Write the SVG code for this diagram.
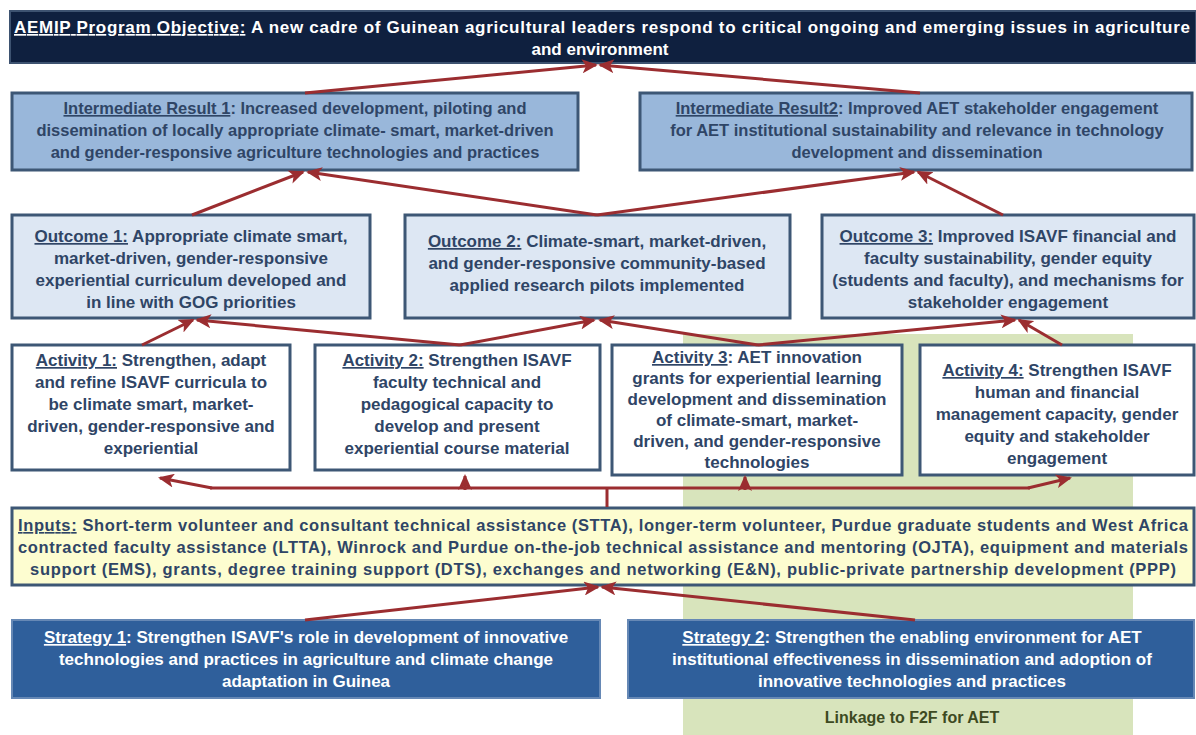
<svg xmlns="http://www.w3.org/2000/svg" width="1196" height="735" viewBox="0 0 1196 735">
<defs>
<style>
text{font-family:"Liberation Sans",Arial,sans-serif;font-weight:bold;text-anchor:middle}
.dk{fill:#2f4566;font-size:17px}
.irt{font-size:16.5px}
.wh{fill:#ffffff;font-size:17px}
.u{text-decoration:underline}
.box{stroke:#3d5775;stroke-width:3}
.ir{fill:#99b7da}
.oc{fill:#dde7f3}
.ac{fill:#ffffff}
.st{fill:#2f5f9b;stroke:#6688b5;stroke-width:2}
.con path{fill:none;stroke:#9b2d30;stroke-width:3}
</style>
<marker id="ah" markerUnits="userSpaceOnUse" markerWidth="16" markerHeight="14" refX="14" refY="7" orient="auto">
<path d="M0,0 L16,7 L0,14 L4,7 z" fill="#9b2d30"/>
</marker>
</defs>
<rect width="1196" height="735" fill="#ffffff"/>
<rect id="linkage-bg" x="683" y="334" width="450" height="401" fill="#d8e4bc"/>

<g id="objective">
<rect x="10" y="11" width="1186" height="52" fill="#0f203f" stroke="#3d5270" stroke-width="2"/>
<text class="wh" style="text-anchor:start" x="14" y="33" textLength="1176" lengthAdjust="spacing"><tspan class="u">AEMIP Program Objective:</tspan>  A new cadre of Guinean agricultural leaders respond to critical ongoing and emerging issues in agriculture</text>
<text class="wh" x="600" y="55">and environment</text>
</g>

<g id="ir1">
<rect class="box ir" x="12" y="93" width="566" height="77"/>
<text class="dk irt" x="295" y="114"><tspan class="u">Intermediate Result 1</tspan>: Increased development, piloting and</text>
<text class="dk irt" x="295" y="136">dissemination of locally appropriate climate- smart, market-driven</text>
<text class="dk irt" x="295" y="158">and gender-responsive agriculture technologies and practices</text>
</g>

<g id="ir2">
<rect class="box ir" x="640" y="93" width="552" height="77"/>
<text class="dk irt" x="917" y="114"><tspan class="u">Intermediate Result2</tspan>: Improved AET stakeholder engagement</text>
<text class="dk irt" x="917" y="136">for AET institutional sustainability and relevance in technology</text>
<text class="dk irt" x="917" y="158">development and dissemination</text>
</g>

<g id="outcome1">
<rect class="box oc" x="12" y="215" width="358" height="103"/>
<text class="dk" x="191" y="242"><tspan class="u">Outcome 1:</tspan> Appropriate climate smart,</text>
<text class="dk" x="191" y="264">market-driven, gender-responsive</text>
<text class="dk" x="191" y="286">experiential curriculum developed and</text>
<text class="dk" x="191" y="308">in line with GOG priorities</text>
</g>

<g id="outcome2">
<rect class="box oc" x="405" y="215" width="385" height="103"/>
<text class="dk" x="597" y="247"><tspan class="u">Outcome 2:</tspan> Climate-smart, market-driven,</text>
<text class="dk" x="597" y="269">and gender-responsive community-based</text>
<text class="dk" x="597" y="291">applied research pilots implemented</text>
</g>

<g id="outcome3">
<rect class="box oc" x="822" y="215" width="372" height="103"/>
<text class="dk" x="1008" y="242"><tspan class="u">Outcome 3:</tspan>  Improved ISAVF financial and</text>
<text class="dk" x="1008" y="264">faculty sustainability, gender equity</text>
<text class="dk" x="1008" y="286">(students and faculty), and mechanisms for</text>
<text class="dk" x="1008" y="308">stakeholder engagement</text>
</g>

<g id="activity1">
<rect class="box ac" x="12" y="345" width="278" height="125"/>
<text class="dk" x="151" y="366"><tspan class="u">Activity 1:</tspan> Strengthen, adapt</text>
<text class="dk" x="151" y="388">and refine ISAVF curricula to</text>
<text class="dk" x="151" y="410">be climate smart, market-</text>
<text class="dk" x="151" y="432">driven, gender-responsive and</text>
<text class="dk" x="151" y="454">experiential</text>
</g>

<g id="activity2">
<rect class="box ac" x="315" y="345" width="285" height="125"/>
<text class="dk" x="457" y="366"><tspan class="u">Activity 2:</tspan> Strengthen ISAVF</text>
<text class="dk" x="457" y="388">faculty technical and</text>
<text class="dk" x="457" y="410">pedagogical capacity to</text>
<text class="dk" x="457" y="432">develop and present</text>
<text class="dk" x="457" y="454">experiential course material</text>
</g>

<g id="activity3">
<rect class="box ac" x="612" y="345" width="290" height="130"/>
<text class="dk" x="757" y="363"><tspan class="u">Activity 3</tspan>: AET innovation</text>
<text class="dk" x="757" y="384">grants for experiential learning</text>
<text class="dk" x="757" y="405">development and dissemination</text>
<text class="dk" x="757" y="426">of climate-smart, market-</text>
<text class="dk" x="757" y="447">driven, and gender-responsive</text>
<text class="dk" x="757" y="468">technologies</text>
</g>

<g id="activity4">
<rect class="box ac" x="920" y="345" width="274" height="130"/>
<text class="dk" x="1057" y="376"><tspan class="u">Activity 4:</tspan> Strengthen ISAVF</text>
<text class="dk" x="1057" y="398">human and financial</text>
<text class="dk" x="1057" y="420">management capacity, gender</text>
<text class="dk" x="1057" y="442">equity and stakeholder</text>
<text class="dk" x="1057" y="464">engagement</text>
</g>

<g id="inputs">
<rect class="box" fill="#fdfdd0" x="12" y="508" width="1182" height="77"/>
<text class="dk" style="text-anchor:start;font-size:16.5px" x="18" y="531" textLength="1170" lengthAdjust="spacing"><tspan class="u">Inputs:</tspan> Short-term volunteer and consultant technical assistance (STTA),  longer-term volunteer, Purdue graduate students and West Africa</text>
<text class="dk" style="text-anchor:start;font-size:16.5px" x="18" y="553" textLength="1170" lengthAdjust="spacing">contracted faculty assistance (LTTA), Winrock and Purdue on-the-job technical assistance and mentoring (OJTA), equipment and materials</text>
<text class="dk" style="text-anchor:start;font-size:16.5px" x="30" y="575" textLength="1146" lengthAdjust="spacing">support (EMS), grants, degree training support (DTS), exchanges and networking (E&amp;N), public-private partnership development (PPP)</text>
</g>

<g id="strategy1">
<rect class="st" x="12" y="620" width="588" height="78"/>
<text class="wh" x="306" y="643"><tspan class="u">Strategy 1</tspan>: Strengthen ISAVF's role in development of innovative</text>
<text class="wh" x="306" y="665">technologies and practices in agriculture and climate change</text>
<text class="wh" x="306" y="687">adaptation in Guinea</text>
</g>

<g id="strategy2">
<rect class="st" x="628" y="620" width="566" height="78"/>
<text class="wh" x="912" y="643"><tspan class="u">Strategy 2</tspan>: Strengthen the enabling environment for  AET</text>
<text class="wh" x="912" y="665">institutional effectiveness  in dissemination  and adoption of</text>
<text class="wh" x="912" y="687">innovative technologies and practices</text>
</g>

<g id="linkage">
<text x="912" y="723" style="fill:#3d4a22;font-size:16px">Linkage to F2F for AET</text>
</g>

<g class="con" id="connectors">
<path d="M305,93 L596,65" marker-end="url(#ah)"/>
<path d="M920,93 L600,65" marker-end="url(#ah)"/>
<path d="M192,215 L303,172" marker-end="url(#ah)"/>
<path d="M597,215 L308,172" marker-end="url(#ah)"/>
<path d="M597,215 L914,172" marker-end="url(#ah)"/>
<path d="M1003,215 L918,172" marker-end="url(#ah)"/>
<path d="M142,345 L193,320" marker-end="url(#ah)"/>
<path d="M460,345 L197,320" marker-end="url(#ah)"/>
<path d="M460,345 L594,320" marker-end="url(#ah)"/>
<path d="M758,345 L600,320" marker-end="url(#ah)"/>
<path d="M758,345 L1015,320" marker-end="url(#ah)"/>
<path d="M1062,345 L1019,320" marker-end="url(#ah)"/>
<path d="M607,507 L607,488"/>
<path d="M210,488 L1030,488"/>
<path d="M212,488 L160,478" marker-end="url(#ah)"/>
<path d="M1028,488 L1070,478" marker-end="url(#ah)"/>
<path d="M465,490 L465,476" marker-end="url(#ah)"/>
<path d="M745,490 L745,477" marker-end="url(#ah)"/>
<path d="M305,620 L598,587" marker-end="url(#ah)"/>
<path d="M915,620 L602,587" marker-end="url(#ah)"/>
</g>
</svg>
